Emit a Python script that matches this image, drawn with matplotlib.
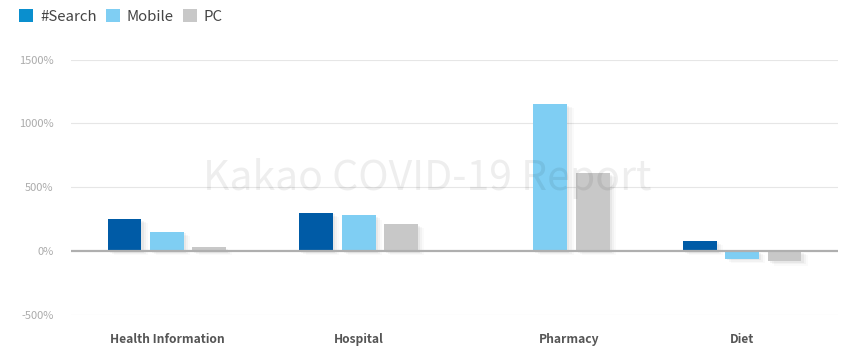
import numpy as np
import matplotlib
matplotlib.use("Agg")
import matplotlib.pyplot as plt
import matplotlib.patheffects as pe
import matplotlib.transforms as mtransforms
from matplotlib.patches import Patch

plt.rcParams['font.family'] = ['Noto Sans CJK KR', 'DejaVu Sans']

# Search-volume change by category (%)
categories = ["Health Information", "Hospital", "Pharmacy", "Diet"]
series_names = ["#Search", "Mobile", "PC"]
search_vals = [250, 300, np.nan, 80]
mobile_vals = [150, 280, 1150, -60]
pc_vals = [30, 210, 610, -80]
y_ticks = [-500, 0, 500, 1000, 1500]

bar_colors = ["#005BA6", "#7FCEF3", "#C8C8C8"]
legend_colors = ["#0A8FCE", "#7FCEF3", "#C8C8C8"]

fig = plt.figure(figsize=(8.47, 3.46), dpi=100)
ax = fig.add_axes([71 / 847, 1 - 315 / 346, (838 - 71) / 847, (315 - 59.5) / 346])

x = np.arange(len(categories))
pitch = 0.221
width = 0.177

shadow = [
    pe.SimplePatchShadow(offset=(1.5, -1), shadow_rgbFace="#000000", alpha=0.045),
    pe.SimplePatchShadow(offset=(3, -2), shadow_rgbFace="#000000", alpha=0.03),
    pe.SimplePatchShadow(offset=(4.5, -3), shadow_rgbFace="#000000", alpha=0.018),
    pe.Normal(),
]

for i, (vals, col) in enumerate(zip([search_vals, mobile_vals, pc_vals], bar_colors)):
    vals = np.asarray(vals, dtype=float)
    bars = ax.bar(x + (i - 1) * pitch, np.nan_to_num(vals), width=width, color=col,
                  zorder=3, linewidth=0)
    for b, v in zip(bars, vals):
        if np.isnan(v):
            b.set_visible(False)
        else:
            b.set_path_effects(shadow)

ax.set_xlim(-0.5, 3.5)
ax.set_ylim(-500, 1500)
ax.set_yticks(y_ticks)
ax.set_yticklabels([f"{t}%" for t in y_ticks], color="#ABABAB", fontsize=8)
ax.set_xticks(x)
ax.set_xticklabels(categories, fontsize=8.7, fontweight="bold", color="#555555")
ax.tick_params(axis="y", length=0, pad=12.5)
ax.tick_params(axis="x", length=0, pad=13)

# nudge the Pharmacy label toward its bars
lbl = ax.get_xticklabels()[2]
lbl.set_transform(lbl.get_transform() + mtransforms.ScaledTranslation(19 / 100, 0, fig.dpi_scale_trans))

for t in y_ticks:
    if t != 0:
        ax.axhline(t, color="#E6E6E6", lw=0.8, zorder=1)
ax.axhline(0, color="#AFAFAF", lw=1.6, zorder=4)

for s in ax.spines.values():
    s.set_visible(False)

ax.text(0.465, 0.535, "Kakao COVID-19 Report", transform=ax.transAxes, ha="center",
        va="center", fontsize=29.5, fontweight="light", color="#000000", alpha=0.065, zorder=6)

handles = [Patch(facecolor=c, edgecolor="none") for c in legend_colors]
fig.legend(handles, series_names, loc="upper left", bbox_to_anchor=(19 / 847, 1 - 9 / 346),
           ncol=3, frameon=False, fontsize=10.8, handlelength=0.95, handleheight=0.95,
           handletextpad=0.45, columnspacing=0.6, borderpad=0, borderaxespad=0,
           labelcolor="#444444")

fig.savefig("out.png", dpi=100, facecolor="white")
